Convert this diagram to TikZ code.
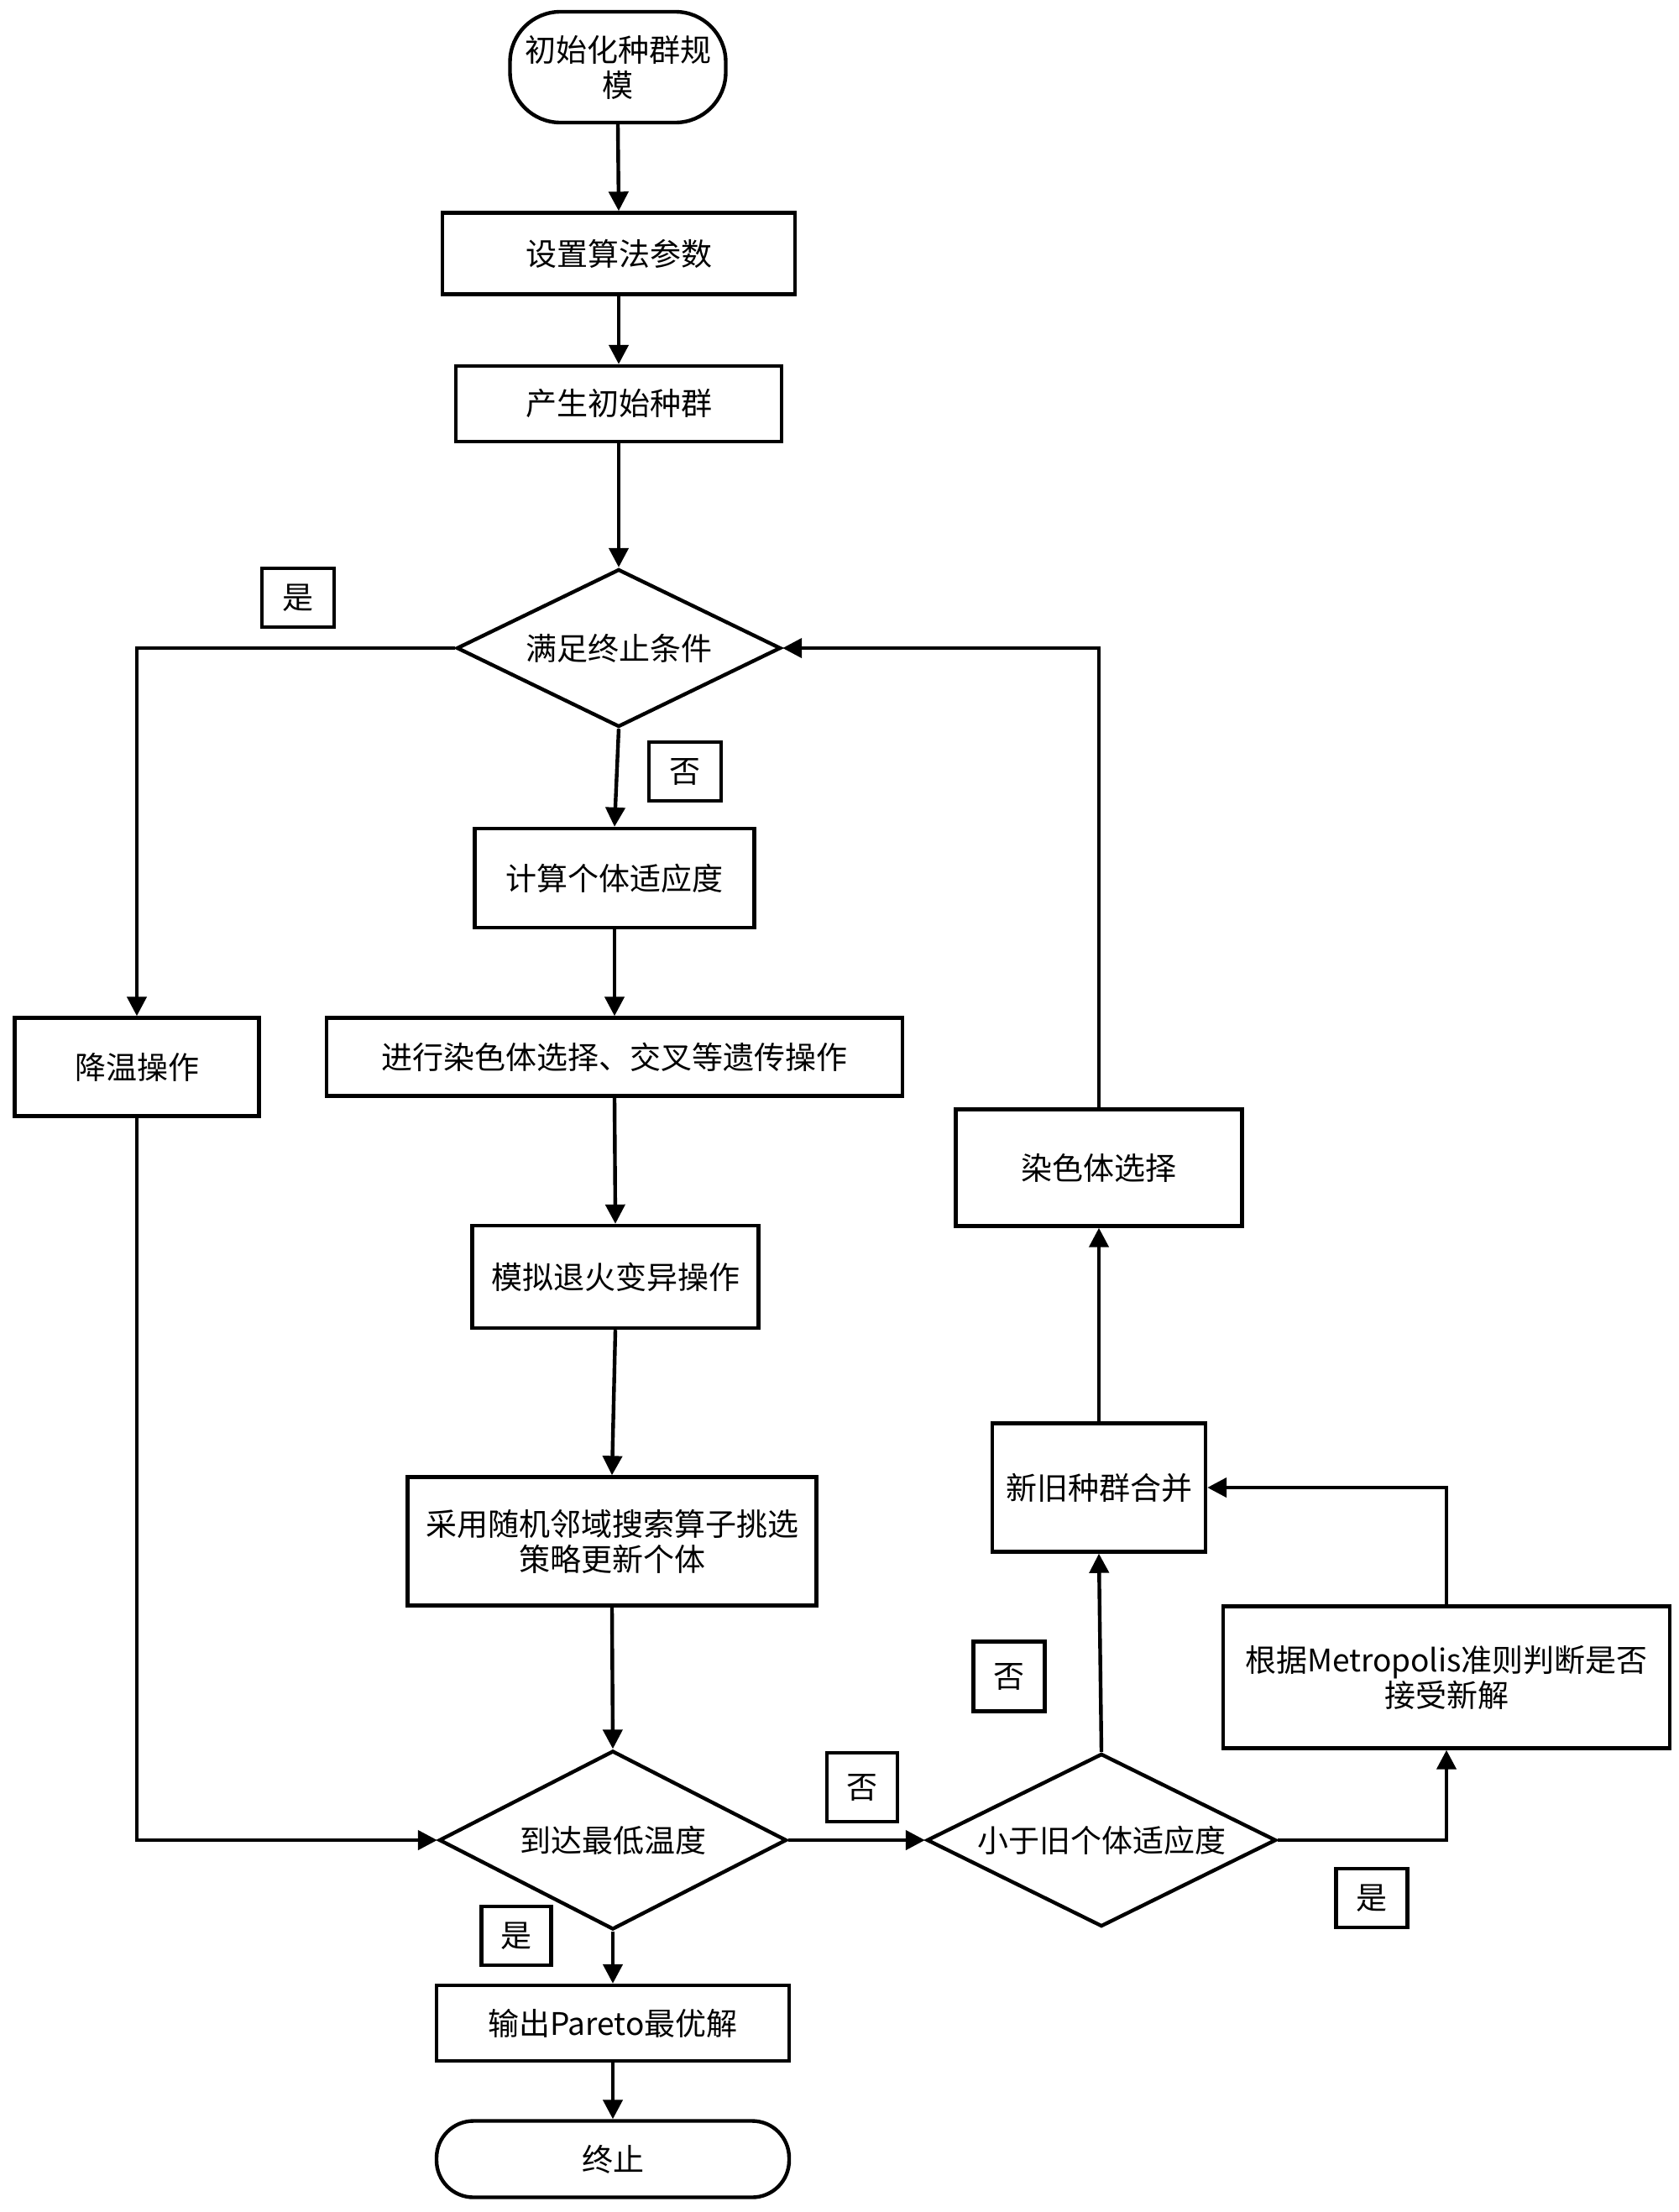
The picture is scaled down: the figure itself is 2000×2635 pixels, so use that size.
\documentclass[tikz,border=0pt]{standalone}
\usepackage{fontspec}
\newfontfamily\cjk{Noto Sans CJK SC}
\usetikzlibrary{shapes.geometric,arrows.meta}
\begin{document}
\begin{tikzpicture}[x=0.5pt,y=-0.5pt,
  every node/.style={font=\cjk\fontsize{18.5pt}{21pt}\selectfont, inner sep=0pt, align=center},
  box/.style={draw, line width=2.2pt, rectangle},
  term/.style={draw, line width=2.2pt, rectangle},
  dia/.style={draw, line width=2.2pt, diamond, aspect=2},
  lab/.style={draw, line width=2.2pt, rectangle},
  arr/.style={line width=2.2pt, -{Triangle[length=11.5pt,width=11.5pt]}},
  ln/.style={line width=2.2pt}
]
\fill[white] (0,0) rectangle (2000,2635);
\useasboundingbox (0,0) rectangle (2000,2635);

\node[term, minimum width=128.5pt, minimum height=66pt, rounded corners=30pt] (start) at (736,80) {初始化种群规\\模};
\node[box, minimum width=210pt, minimum height=48.5pt] (set) at (737,302) {设置算法参数};
\node[box, minimum width=194pt, minimum height=45pt] (gen) at (737,481) {产生初始种群};
\node[dia, minimum width=193pt, minimum height=94pt] (d1) at (737,772) {满足终止条件};
\node[lab, minimum width=43pt, minimum height=35pt] (yes1) at (355,712) {是};
\node[lab, minimum width=43pt, minimum height=35pt] (no1) at (816,919) {否};
\node[box, minimum width=166.5pt, minimum height=59pt] (calc) at (732,1046) {计算个体适应度};
\node[box, minimum width=145.5pt, minimum height=58.5pt] (cool) at (163,1271) {降温操作};
\node[box, minimum width=343pt, minimum height=46.5pt] (ga) at (732,1259) {进行染色体选择、交叉等遗传操作};
\node[box, minimum width=170.5pt, minimum height=69.5pt] (csel) at (1309,1391) {染色体选择};
\node[box, minimum width=170.5pt, minimum height=61pt] (sa) at (733,1521) {模拟退火变异操作};
\node[box, minimum width=127pt, minimum height=76.5pt] (merge) at (1309,1772) {新旧种群合并};
\node[box, minimum width=243.5pt, minimum height=76.5pt] (rns) at (729,1836) {采用随机邻域搜索算子挑选\\策略更新个体};
\node[box, minimum width=266pt, minimum height=84.5pt] (metro) at (1723,1998) {根据Metropolis准则判断是否\\接受新解};
\node[lab, minimum width=42.5pt, minimum height=41.5pt] (no2) at (1202,1997) {否};
\node[dia, minimum width=207pt, minimum height=106.5pt] (d2) at (730,2192) {到达最低温度};
\node[lab, minimum width=42pt, minimum height=41pt] (no3) at (1027,2129) {否};
\node[dia, minimum width=208pt, minimum height=103pt] (d3) at (1312,2192) {小于旧个体适应度};
\node[lab, minimum width=42.5pt, minimum height=35pt] (yes2) at (1634,2261) {是};
\node[lab, minimum width=41.5pt, minimum height=35pt] (yes3) at (615,2306) {是};
\node[box, minimum width=210pt, minimum height=45pt] (out) at (730,2410) {输出Pareto最优解};
\node[term, minimum width=210pt, minimum height=45.5pt, rounded corners=22pt] (stop) at (730,2572) {终止};

\draw[arr] (start.south) -- (set.north);
\draw[arr] (set.south) -- (gen.north);
\draw[arr] (gen.south) -- (d1.north);
\draw[arr] (d1.south) -- (calc.north);
\draw[arr] (d1.west) -| (cool.north);
\draw[arr] (calc.south) -- (ga.north);
\draw[arr] (ga.south) -- (sa.north);
\draw[arr] (sa.south) -- (rns.north);
\draw[arr] (rns.south) -- (d2.north);
\draw[arr] (cool.south) |- (d2.west);
\draw[arr] (d2.east) -- (d3.west);
\draw[arr] (d3.north) -- (merge.south);
\draw[arr] (d3.east) -| (metro.south);
\draw[arr] (metro.north) |- (merge.east);
\draw[arr] (merge.north) -- (csel.south);
\draw[arr] (csel.north) |- (d1.east);
\draw[arr] (d2.south) -- (out.north);
\draw[arr] (out.south) -- (stop.north);
\end{tikzpicture}
\end{document}
